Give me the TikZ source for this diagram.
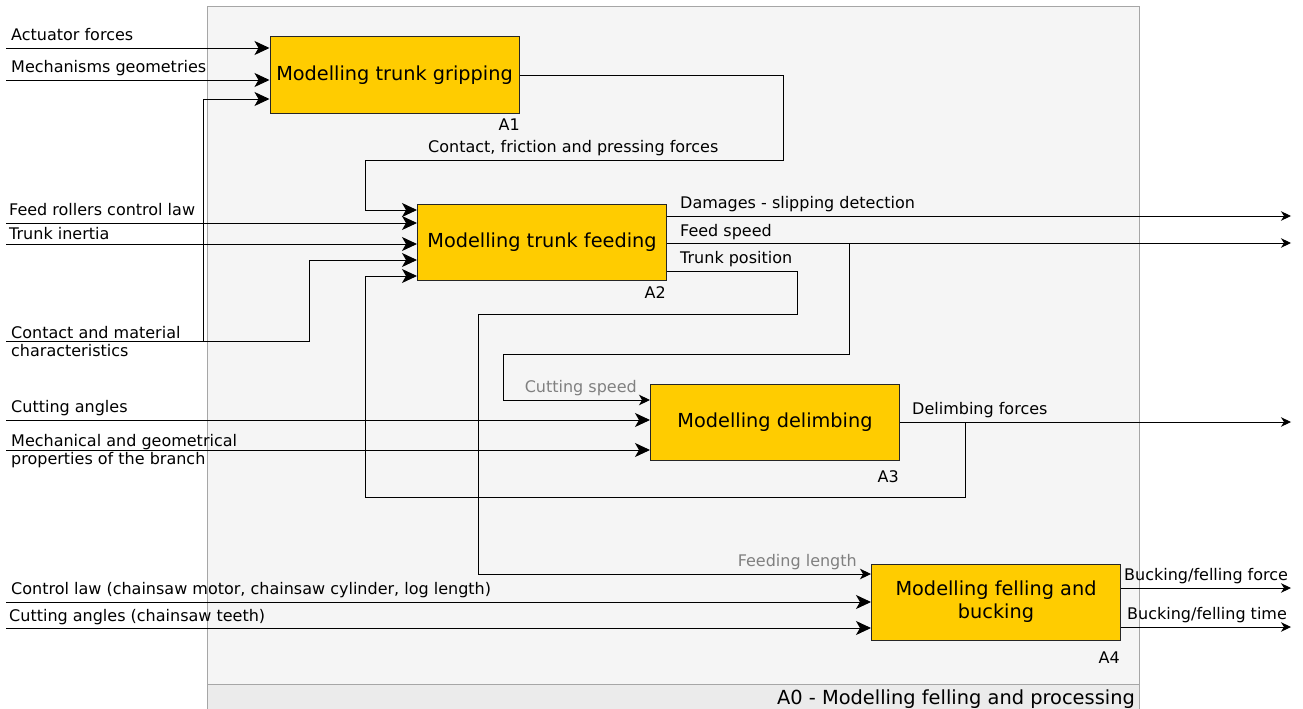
\documentclass[tikz,border=0pt]{standalone}
\usepackage{fontspec}
\setmainfont{DejaVu Sans}
\usetikzlibrary{arrows.meta}
\definecolor{boxfill}{HTML}{FFCC00}
\definecolor{framefill}{HTML}{F5F5F5}
\definecolor{bandfill}{HTML}{EBEBEB}
\definecolor{framedraw}{HTML}{A6A6A6}
\definecolor{graytext}{HTML}{808080}
\begin{document}
\begin{tikzpicture}[x=1pt,y=-1pt,
  fnbox/.style={draw=black!85, line width=1pt, fill=boxfill, minimum width=249pt, minimum height=76pt, inner sep=0pt, align=center, font=\fontsize{19.3}{23}\selectfont},
  lbl/.style={anchor=base west, inner sep=0pt, font=\fontsize{16}{19}\selectfont},
  lblr/.style={anchor=base east, inner sep=0pt, font=\fontsize{16}{19}\selectfont},
  glbl/.style={lblr, text=graytext},
  wire/.style={line width=0.95pt, draw=black},
  bigarr/.style={wire, -{Stealth[length=15pt,width=14pt,inset=4pt]}},
  medarr/.style={wire, -{Stealth[length=11pt,width=10.5pt,inset=3pt]}},
  smallarr/.style={wire, -{Stealth[length=10pt,width=9.5pt,inset=3pt]}}]
\useasboundingbox (0,0) rectangle (1303,709);
% frame
\path[fill=framefill, draw=framedraw, line width=1pt] (207,7) rectangle (1139,712);
\path[fill=bandfill, draw=framedraw, line width=1pt] (207,684) rectangle (1139,712);
\node[anchor=base east, inner sep=0pt, font=\fontsize{19.4}{23}\selectfont] (title) at (1135,704) {A0 - Modelling felling and processing};

% boxes
\node[fnbox] (a1) at (394.5,75) {Modelling trunk gripping};
\node[fnbox] (a2) at (542,242) {Modelling trunk feeding};
\node[fnbox] (a3) at (775,422) {Modelling delimbing};
\node[fnbox] (a4) at (996,602) {Modelling felling and\\bucking};
\node[lblr] (a1l) at (520,130) {A1};
\node[lblr] (a2l) at (666,298) {A2};
\node[lblr] (a3l) at (899,482) {A3};
\node[lblr] (a4l) at (1120,663) {A4};

% free ends
\coordinate (i1) at (6,48);
\coordinate (i2) at (6,80);
\coordinate (i3) at (6,223);
\coordinate (i4) at (6,244);
\coordinate (i5) at (6,341);
\coordinate (i6) at (6,420);
\coordinate (i7) at (6,450);
\coordinate (i8) at (6,602);
\coordinate (i9) at (6,628);
\coordinate (o1) at (1291,216);
\coordinate (o2) at (1291,243);
\coordinate (o3) at (1291,422);
\coordinate (o4) at (1291,588);
\coordinate (o5) at (1291,627);

% inputs A1
\draw[bigarr] (i1) -- (i1 -| a1.west);
\draw[bigarr] (i2) -- (i2 -| a1.west);
\draw[bigarr] (203,341) -- (203,99) -- (a1.west |- 0,99);
% contact & material
\draw[bigarr] (i5) -- (309,341) -- (309,260) -- (a2.west |- 0,260);
% A1 -> A2
\draw[bigarr] (a1.east) -- (783,75) -- (783,160) -- (365,160) -- (365,210) -- (a2.west |- 0,210);
\draw[bigarr] (i3) -- (i3 -| a2.west);
\draw[bigarr] (i4) -- (i4 -| a2.west);
% A3 feedback to A2
\draw[bigarr] (965,422) -- (965,497) -- (365,497) -- (365,276) -- (a2.west |- 0,276);
% A2 outputs
\draw[smallarr] (a2.east |- o1) -- (o1);
\draw[smallarr] (a2.east |- o2) -- (o2);
\draw[medarr] (849,243) -- (849,354) -- (503,354) -- (503,400) -- (a3.west |- 0,400);
\draw[medarr] (a2.east |- 0,271) -- (797,271) -- (797,314) -- (478,314) -- (478,574) -- (a4.west |- 0,574);
% A3
\draw[bigarr] (i6) -- (i6 -| a3.west);
\draw[bigarr] (i7) -- (i7 -| a3.west);
\draw[smallarr] (a3.east |- o3) -- (o3);
% A4
\draw[bigarr] (i8) -- (i8 -| a4.west);
\draw[bigarr] (i9) -- (i9 -| a4.west);
\draw[smallarr] (a4.east |- o4) -- (o4);
\draw[smallarr] (a4.east |- o5) -- (o5);

% labels
\node[lbl] (t1) at (11,41) {Actuator forces};
\node[lbl] (t2) at (11,73) {Mechanisms geometries};
\node[lbl] (t3) at (428,152) {Contact, friction and pressing forces};
\node[lbl] (t4) at (9,215) {Feed rollers control law};
\node[lbl] (t5) at (9,239) {Trunk inertia};
\node[lbl] (t6) at (680,208) {Damages - slipping detection};
\node[lbl] (t7) at (680,236) {Feed speed};
\node[lbl] (t8) at (680,263) {Trunk position};
\node[lbl] (t9) at (11,338) {Contact and material};
\node[lbl] (t10) at (11,356) {characteristics};
\node[glbl] (t11) at (637,392) {Cutting speed};
\node[lbl] (t12) at (11,412) {Cutting angles};
\node[lbl] (t13) at (912,414) {Delimbing forces};
\node[lbl] (t14) at (11,446) {Mechanical and geometrical};
\node[lbl] (t15) at (11,464) {properties of the branch};
\node[glbl] (t16) at (857,566) {Feeding length};
\node[lbl] (t17) at (1124,580) {Bucking/felling force};
\node[lbl] (t18) at (11,594) {Control law (chainsaw motor, chainsaw cylinder, log length)};
\node[lbl] (t19) at (1127,619) {Bucking/felling time};
\node[lbl] (t20) at (9,621) {Cutting angles (chainsaw teeth)};
\end{tikzpicture}
\end{document}
